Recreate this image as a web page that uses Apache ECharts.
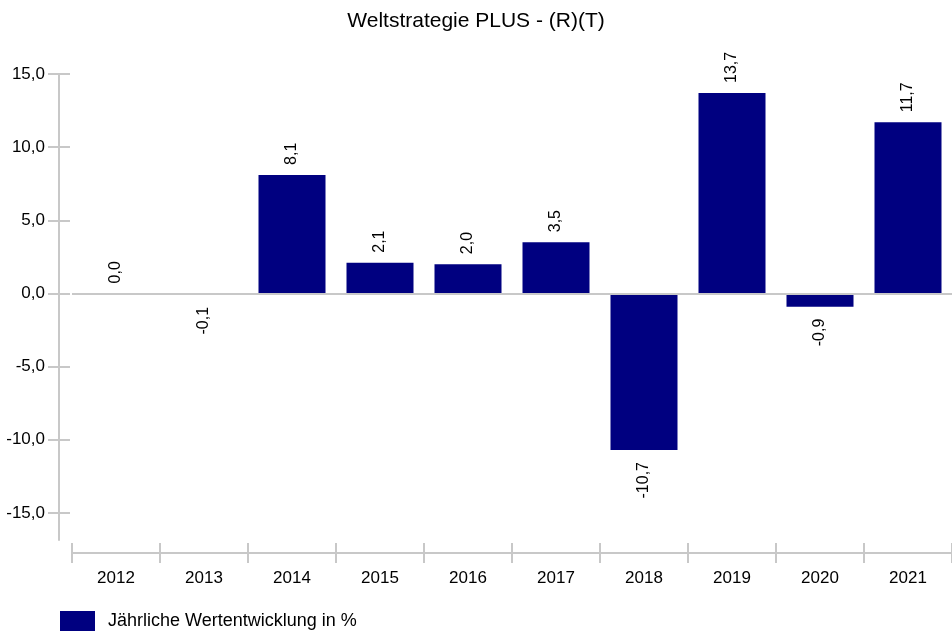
<!DOCTYPE html>
<html>
<head>
<meta charset="utf-8">
<script src="https://cdn.jsdelivr.net/npm/echarts@6/dist/echarts.min.js"></script>
<style>
    html, body { margin: 0; padding: 0; background: #fff; }
    #chart { width: 952px; height: 634px; }
</style>
</head>
<body>
<div id="chart"></div>
<script>
// Daten
const years = ['2012', '2013', '2014', '2015', '2016', '2017', '2018', '2019', '2020', '2021'];
const performance = [0.0, -0.1, 8.1, 2.1, 2.0, 3.5, -10.7, 13.7, -0.9, 11.7];
const yTicks = [-15, -10, -5, 0, 5, 10, 15];
const seriesName = 'Jährliche Wertentwicklung in %';

const fontFamily = 'Arial, "Liberation Sans", sans-serif';
const gray = '#c8c8c8';
const navy = '#000080';

function fmt(v) {
    return v.toFixed(1).replace('.', ',');
}

const chart = echarts.init(document.getElementById('chart'), null, { renderer: 'canvas' });

// Beschriftung oberhalb bzw. unterhalb des Balkens
const barData = performance.map(v => ({
    value: v,
    label: v < 0
        ? { position: 'bottom', align: 'right', distance: 12 }
        : { position: 'top', align: 'left', distance: 10 }
}));

const yBase = {
    type: 'value',
    min: -16.85,
    max: 15,
    position: 'left',
    offset: 13,
    splitLine: { show: false }
};

const xBase = {
    type: 'category',
    data: years,
    position: 'bottom',
    offset: 13,
    gridIndex: 0
};

chart.setOption({
    animation: false,
    textStyle: { fontFamily: fontFamily },
    title: {
        text: 'Weltstrategie PLUS - (R)(T)',
        left: 'center',
        top: 6,
        textStyle: { fontSize: 21, fontWeight: 'normal', color: '#000', fontFamily: fontFamily }
    },
    legend: {
        left: 55,
        top: 606,
        itemWidth: 35,
        itemHeight: 20,
        itemGap: 10,
        icon: 'rect',
        textStyle: { fontSize: 18, color: '#000', fontFamily: fontFamily, padding: [0, 0, 0, 8] },
        data: [seriesName]
    },
    grid: { left: 72, right: 0, top: 74, bottom: 94, containLabel: false },
    xAxis: [
        Object.assign({}, xBase, {
            axisLine: { show: true, onZero: false, lineStyle: { color: gray, width: 2 } },
            axisTick: { show: true, length: 10, lineStyle: { color: gray, width: 2 } },
            axisLabel: { show: true, margin: 17, fontSize: 17, color: '#000', fontFamily: fontFamily }
        }),
        Object.assign({}, xBase, {
            axisLine: { show: false, onZero: false },
            axisTick: { show: true, inside: true, length: 10, lineStyle: { color: gray, width: 2 } },
            axisLabel: { show: false }
        })
    ],
    yAxis: [
        Object.assign({}, yBase, {
            axisLine: { show: true, onZero: false, lineStyle: { color: gray, width: 2 } },
            axisTick: { show: true, length: 11, customValues: yTicks, lineStyle: { color: gray, width: 2 } },
            axisLabel: {
                show: true, margin: 14, fontSize: 17, color: '#000', fontFamily: fontFamily,
                customValues: yTicks,
                formatter: v => fmt(v)
            }
        }),
        Object.assign({}, yBase, {
            axisLine: { show: false, onZero: false },
            axisTick: { show: true, inside: true, length: 11, customValues: yTicks, lineStyle: { color: gray, width: 2 } },
            axisLabel: { show: false, customValues: yTicks }
        })
    ],
    series: [{
        name: seriesName,
        type: 'bar',
        xAxisIndex: 0,
        yAxisIndex: 0,
        barWidth: 67,
        itemStyle: { color: navy },
        label: {
            show: true,
            rotate: 90,
            verticalAlign: 'middle',
            fontSize: 16,
            color: '#000',
            fontFamily: fontFamily,
            formatter: p => fmt(p.value)
        },
        data: barData,
        markLine: {
            silent: true,
            symbol: 'none',
            label: { show: false },
            lineStyle: { color: gray, width: 2, type: 'solid' },
            data: [{ yAxis: 0 }]
        }
    }]
});
</script>
</body>
</html>
